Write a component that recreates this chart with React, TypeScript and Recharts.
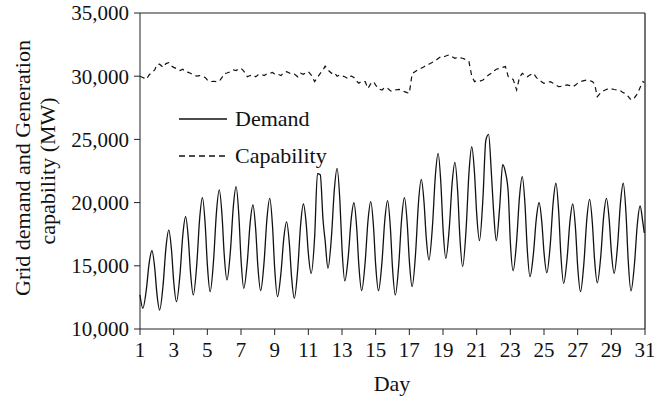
import React from "react";
import {
  LineChart,
  Line,
  XAxis,
  YAxis,
  ReferenceLine,
} from "recharts";

const FONT = '"Liberation Serif", "Times New Roman", serif';

// each day is sampled at these hours, last sample closes day 30
const SAMPLE_HOURS = [0, 4, 9, 13, 17, 21];
const DAYS = Array.from({ length: 30 }, (_, i) => i + 1);
const LAST_TIME = 31 - 1 / 24;

const DEMAND_MW = [
  12700, 11640, 13100, 15190, 16190, 14830,
  12860, 11500, 13530, 16440, 17830, 16190,
  13800, 12160, 14310, 17400, 18880, 17090,
  14490, 12690, 15150, 18700, 20390, 18230,
  15110, 12950, 15530, 19230, 21000, 18940,
  15950, 13880, 16240, 19640, 21260, 18930,
  15550, 13220, 15330, 18360, 19810, 17850,
  15000, 13030, 15370, 18730, 20340, 18090,
  14820, 12560, 14450, 17170, 18470, 16720,
  14180, 12430, 14820, 18250, 19890, 18300,
  15990, 14400, 17300, 22300, 22200, 18600,
  16950, 14800, 17330, 20970, 22710, 20130,
  16380, 13800, 15780, 18630, 19990, 17970,
  15050, 13030, 15280, 18520, 20070, 18030,
  15070, 13030, 15310, 18580, 20150, 17990,
  14850, 12690, 15150, 18700, 20390, 18350,
  15390, 13350, 16070, 19970, 21840, 19990,
  17310, 15460, 18160, 22040, 23900, 21490,
  18000, 15590, 18020, 21520, 23190, 20800,
  17330, 14930, 17970, 22330, 24420, 22270,
  19150, 16990, 20400, 24900, 25400, 22300,
  19430, 16990, 19800, 23000, 22400, 20800,
  16900, 14610, 16990, 20410, 22050, 19760,
  16430, 14140, 16010, 18700, 19990, 18380,
  16060, 14450, 16720, 19970, 21530, 19230,
  15910, 13610, 15620, 18510, 19890, 17880,
  14960, 12950, 15290, 18650, 20260, 18350,
  15570, 13660, 15800, 18870, 20340, 18620,
  16120, 14400, 16680, 19960, 21530, 19060,
  15480, 13010, 15160, 18250, 19730, 18400,
  17600,
];

const CAPABILITY_MW = [
  30000, 29900, 29750, 30100, 30300, 30500,
  30900, 30950, 30700, 31000, 31070, 30800,
  30700, 30600, 30450, 30550, 30350, 30300,
  30230, 30100, 30000, 30050, 29950, 29900,
  29700, 29570, 29600, 29570, 29600, 29900,
  30200, 30250, 30350, 30500, 30450, 30600,
  30630, 30400, 29960, 30050, 30100, 29950,
  30100, 30170, 30050, 30200, 30230, 30300,
  30150, 30170, 30050, 30300, 30360, 30250,
  30150, 30170, 29950, 30230, 30150, 30300,
  30360, 30100, 29570, 29900, 30230, 30500,
  30800, 30500, 30230, 30300, 30000, 30100,
  30020, 29960, 29800, 30020, 29900, 29600,
  29440, 29600, 29570, 29040, 29400, 29570,
  29300, 29000, 28910, 29100, 29040, 28850,
  28780, 28910, 28950, 28910, 28780, 28700,
  28650, 30200, 30400, 30550, 30630, 30750,
  30890, 30950, 31100, 31200, 31400, 31550,
  31500, 31600, 31690, 31550, 31420, 31500,
  31450, 31420, 31300, 31160, 30000, 29570,
  29650, 29600, 29700, 29900, 30100, 30230,
  30400, 30550, 30630, 30700, 30760, 29960,
  29850, 29750, 28910, 29900, 30230, 30050,
  29960, 30100, 30230, 29900, 29700, 29550,
  29440, 29500, 29570, 29450, 29300, 29170,
  29200, 29250, 29310, 29250, 29170, 29300,
  29450, 29570, 29650, 29700, 29650, 29570,
  29400, 28380, 28700, 28850, 28950, 29040,
  29000, 28950, 28910, 28850, 28700, 28600,
  28400, 28120, 28300, 28600, 29100, 29570,
  29500,
];

const X_TICKS = [1, 3, 5, 7, 9, 11, 13, 15, 17, 19, 21, 23, 25, 27, 29, 31];
const Y_TICKS = [10000, 15000, 20000, 25000, 30000, 35000];

const TIMES = [
  ...DAYS.flatMap((d) => SAMPLE_HOURS.map((h) => d + h / 24)),
  LAST_TIME,
];

const rows = TIMES.map((t, i) => ({
  t,
  demand: DEMAND_MW[i],
  capability: CAPABILITY_MW[i],
}));

const DASH = "5 4";

function LegendBox() {
  const items = [
    { name: "Demand", dash: undefined },
    { name: "Capability", dash: "6 4" },
  ];
  return (
    <div
      style={{
        position: "absolute",
        left: 178,
        top: 100,
        fontFamily: FONT,
        fontSize: 22,
        color: "#111",
      }}
    >
      {items.map((it) => (
        <div
          key={it.name}
          style={{ display: "flex", alignItems: "center", height: 37 }}
        >
          <svg width={50} height={10} style={{ marginRight: 7 }}>
            <line
              x1={1}
              x2={49}
              y1={5}
              y2={5}
              stroke="#111"
              strokeWidth={1.3}
              strokeDasharray={it.dash}
            />
          </svg>
          <span>{it.name}</span>
        </div>
      ))}
    </div>
  );
}

function YLabel() {
  return (
    <g fontFamily={FONT} fontSize={22} fill="#111">
      <text
        x={22}
        y={168}
        transform="rotate(-90 22 168)"
        textAnchor="middle"
        dominantBaseline="central"
      >
        Grid demand and Generation
      </text>
      <text
        x={47}
        y={171}
        transform="rotate(-90 47 171)"
        textAnchor="middle"
        dominantBaseline="central"
      >
        capability (MW)
      </text>
    </g>
  );
}

export default function App() {
  const tickStyle = { fontFamily: FONT, fontSize: 21, fill: "#111" };
  return (
    <div
      style={{
        position: "absolute",
        left: 0,
        top: 0,
        width: 654,
        height: 397,
        background: "#fff",
      }}
    >
      <LineChart
        width={654}
        height={397}
        data={rows}
        margin={{ top: 13, right: 9, bottom: 0, left: 0 }}
      >
        <XAxis
          dataKey="t"
          type="number"
          domain={[1, 31]}
          ticks={X_TICKS}
          interval={0}
          height={68}
          tick={tickStyle}
          tickSize={6}
          tickMargin={7}
          stroke="#222"
          label={() => (
            <text
              x={392}
              y={383}
              textAnchor="middle"
              dominantBaseline="central"
              fontFamily={FONT}
              fontSize={22}
              fill="#111"
            >
              Day
            </text>
          )}
        />
        <YAxis
          type="number"
          domain={[10000, 35000]}
          ticks={Y_TICKS}
          interval={0}
          width={140}
          tick={tickStyle}
          tickSize={6}
          tickMargin={5}
          tickFormatter={(v: number) => v.toLocaleString("en-US")}
          stroke="#222"
          label={() => <YLabel />}
        />
        <ReferenceLine y={35000} stroke="#222" strokeWidth={1.2} />
        <ReferenceLine x={31} stroke="#444" strokeWidth={1.5} />
        <Line
          type="linear"
          dataKey="capability"
          stroke="#111"
          strokeWidth={1.2}
          strokeDasharray={DASH}
          dot={false}
          isAnimationActive={false}
        />
        <Line
          type="monotone"
          dataKey="demand"
          stroke="#111"
          strokeWidth={1.3}
          dot={false}
          isAnimationActive={false}
        />
      </LineChart>
      <LegendBox />
    </div>
  );
}
